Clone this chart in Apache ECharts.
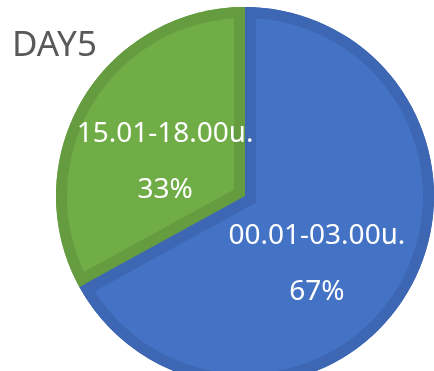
<!DOCTYPE html>
<html>
<head>
<meta charset="utf-8">
<script src="https://cdn.jsdelivr.net/npm/echarts@6/dist/echarts.min.js"></script>
<style>
  html, body { margin: 0; padding: 0; background: #ffffff; }
  #chart { width: 434px; height: 371px; }
</style>
</head>
<body>
<div id="chart"></div>
<script>
// Time slots and their share of the day's total
const categories = ['00.01-03.00น.', '15.01-18.00น.'];
const shares = [67, 33];
const chartTitle = 'DAY5';

// Fill and rim colours per slot
const fillColors = ['#4472C4', '#70AD47'];
const rimColors = ['#3D67B3', '#659C40'];

const CLEAR = 'rgba(0,0,0,0)';
const FONT = '"Noto Sans", "Noto Sans Thai", "DejaVu Sans", sans-serif';

const center = [245, 196];
const outerR = 189;   // outer edge of the pie
const rim = 11;       // width of the darker rim inside every slice
const innerR = outerR - rim;

// Geometry of the smaller slice (used to inset its rim parallel to its edges)
const total = shares.reduce((a, b) => a + b, 0);
const spanDeg = 360 * shares[1] / total;
const midDeg = 360 * shares[0] / total + spanDeg / 2;   // clockwise from 12 o'clock
const midRad = midDeg * Math.PI / 180;
const ux = Math.sin(midRad), uy = -Math.cos(midRad);
const shift = rim / Math.sin(spanDeg / 2 * Math.PI / 180);
const grownCenter = [center[0] - shift * ux, center[1] - shift * uy];
const shrunkCenter = [center[0] + shift * ux, center[1] + shift * uy];

function layer(c, radius, colors, z, extra) {
  return Object.assign({
    type: 'pie',
    center: c,
    radius: radius,
    startAngle: 90,
    clockwise: true,
    silent: true,
    animation: false,
    z: z,
    label: { show: false },
    labelLine: { show: false },
    emphasis: { disabled: true },
    itemStyle: { borderWidth: 0 },
    data: categories.map((name, i) => ({
      name: name,
      value: shares[i],
      itemStyle: { color: colors[i], borderWidth: 0 }
    }))
  }, extra || {});
}

// Label nudges for the two slots
const labelShift = [[-9, 20], [1, 14]];

const option = {
  backgroundColor: '#ffffff',
  title: {
    text: chartTitle,
    left: 7,
    top: 24,
    textStyle: { fontFamily: FONT, fontSize: 35, fontWeight: 'normal', color: '#595959' }
  },
  series: [
    // full pie in rim colours
    layer(center, outerR, rimColors, 1),
    // light blue interior
    layer(center, innerR + 4, [fillColors[0], fillColors[0]], 2),
    // green slice grown by the rim width, painted with the blue rim colour
    layer(grownCenter, outerR + 3, [CLEAR, rimColors[0]], 3),
    // green slice itself in its rim colour
    layer(center, outerR - 4, [CLEAR, rimColors[1]], 4),
    // green interior, inset by the rim width
    layer(shrunkCenter, innerR - 2, [CLEAR, fillColors[1]], 5),
    // outer rim ring on top
    layer(center, [innerR, outerR], rimColors, 6),
    // labels
    layer(center, innerR + 4, [CLEAR, CLEAR], 7, {
      label: {
        show: true,
        position: 'inside',
        formatter: '{b}\n{d}%',
        color: '#ffffff',
        fontFamily: FONT,
        fontSize: 28,
        lineHeight: 56,
        align: 'center'
      },
      labelLayout: function (p) {
        const s = labelShift[p.dataIndex];
        return { dx: s[0], dy: s[1] };
      }
    })
  ]
};

const chart = echarts.init(document.getElementById('chart'), null, { renderer: 'canvas' });
chart.setOption(option);
</script>
</body>
</html>
